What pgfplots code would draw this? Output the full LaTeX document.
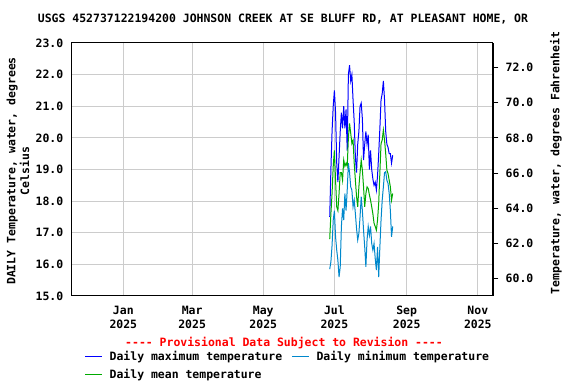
\documentclass[border=0pt]{standalone}
\usepackage{fontspec}
\setmainfont{DejaVu Sans Mono}[Ligatures=TeXOff]
\usepackage{pgfplots}
\usepackage{pgfplotstable}
\pgfplotsset{compat=1.18}

\definecolor{maxblue}{RGB}{0,0,255}
\definecolor{minblue}{RGB}{0,136,204}
\definecolor{meangreen}{RGB}{0,170,0}
\definecolor{gridgray}{RGB}{204,204,204}

% day of year 2025 (Jan 1 = 0), daily max / min / mean, deg C
\pgfplotstableread{
day tmax tmin tmean
177 17.5 15.85 16.8
178 19.0 16.08 17.6
179 20.2 16.6 18.24
180 21.0 17.4 19.1
181 21.5 17.7 19.6
182 20.8 16.87 18.66
183 19.2 16.45 17.82
184 18.6 16.13 17.7
185 19.4 15.6 18.24
186 20.2 15.92 18.9
187 20.8 17.2 18.9
188 20.3 17.77 18.66
189 21.0 17.4 19.3
190 20.3 18.24 19.1
191 20.9 17.7 19.2
192 19.6 18.35 19.1
193 22.0 19.2 20.0
194 22.3 18.9 20.46
195 21.8 18.45 20.14
196 22.0 18.35 19.82
197 21.2 17.82 19.93
198 20.5 18.03 19.2
199 19.4 17.6 18.66
200 18.9 17.13 18.14
201 19.8 16.77 17.82
202 20.2 16.98 18.45
203 21.0 17.5 18.9
204 21.1 18.14 19.3
205 20.6 17.7 18.98
206 19.3 17.08 18.45
207 19.8 16.55 17.82
208 20.2 15.92 18.24
209 19.8 16.77 18.45
210 20.1 17.2 18.4
211 19.0 16.92 18.2
212 19.6 17.2 18.03
213 19.0 16.66 17.82
214 18.7 16.45 17.6
215 18.5 16.66 17.3
216 18.6 16.19 17.2
217 18.35 15.82 17.08
218 18.8 16.55 17.4
219 19.5 15.6 17.93
220 20.3 16.55 18.9
221 21.2 17.4 19.82
222 21.4 18.03 19.93
223 21.8 18.45 20.25
224 21.2 18.9 19.93
225 20.2 18.93 19.5
226 19.8 18.66 18.98
227 19.7 18.56 18.87
228 19.5 18.24 18.66
229 19.5 17.7 18.45
230 19.2 16.87 18.03
231 19.45 17.2 18.24
}\temps

\begin{document}
\begin{tikzpicture}[font=\fontsize{8.6}{10.3}\selectfont\bfseries]
\useasboundingbox (0,0) rectangle (432pt,288pt);

\begin{axis}[
    at={(54pt,66pt)}, anchor=south west,
    scale only axis, width=315.75pt, height=189.75pt,
    xmin=-44, xmax=317, ymin=15, ymax=23,
    xtick={0,59,120,181,243,304},
    xticklabels={Jan\\2025,Mar\\2025,May\\2025,Jul\\2025,Sep\\2025,Nov\\2025},
    xticklabel style={align=center, yshift=-4pt},
    ytick={15,16,...,23},
    grid=major,
    grid style={gridgray, line width=0.75pt},
    axis line style={line width=0.75pt},
    major tick length=0pt,
    yticklabel style={xshift=-3pt, /pgf/number format/.cd, fixed, fixed zerofill, precision=1, assume math mode=true},
    legend columns=2,
    legend cell align=left,
    legend image code/.code={\draw[#1, line width=1.2pt] (0pt,0pt) -- (12.75pt,0pt); \path (15.75pt,0pt);},
    legend style={at={(axis description cs:0.0295,-0.205)}, anchor=north west,
        draw=none, fill=none, inner sep=0pt, row sep=1pt,
        /tikz/every even column/.append style={column sep=5pt}},
]
\addplot[maxblue, line width=0.75pt] table[x=day, y=tmax] {\temps};
\addlegendentry{Daily maximum temperature}
\addplot[minblue, line width=0.75pt] table[x=day, y=tmin] {\temps};
\addlegendentry{Daily minimum temperature}
\addplot[meangreen, line width=0.75pt] table[x=day, y=tmean] {\temps};
\addlegendentry{Daily mean temperature}
\end{axis}

\begin{axis}[
    at={(54pt,66pt)}, anchor=south west,
    scale only axis, width=315.75pt, height=189.75pt,
    xmin=-44, xmax=317, ymin=59, ymax=73.4,
    axis x line=none, axis y line*=right,
    axis line style={line width=0.75pt},
    ytick={60,62,...,72},
    tick align=outside, major tick length=4pt,
    tick style={black, line width=0.75pt},
    yticklabel style={xshift=2pt, /pgf/number format/.cd, fixed, fixed zerofill, precision=1, assume math mode=true},
]
\end{axis}

\node at (212.25pt,273.75pt) {USGS 452737122194200 JOHNSON CREEK AT SE BLUFF RD, AT PLEASANT HOME, OR};
\node[rotate=90, align=center] at (13.5pt,159.75pt) {DAILY Temperature, water, degrees\\Celsius};
\node[rotate=90] at (417pt,165.75pt) {Temperature, water, degrees Fahrenheit};
\node[text=red] at (213pt,30.75pt) {---- Provisional Data Subject to Revision ----};
\end{tikzpicture}
\end{document}
